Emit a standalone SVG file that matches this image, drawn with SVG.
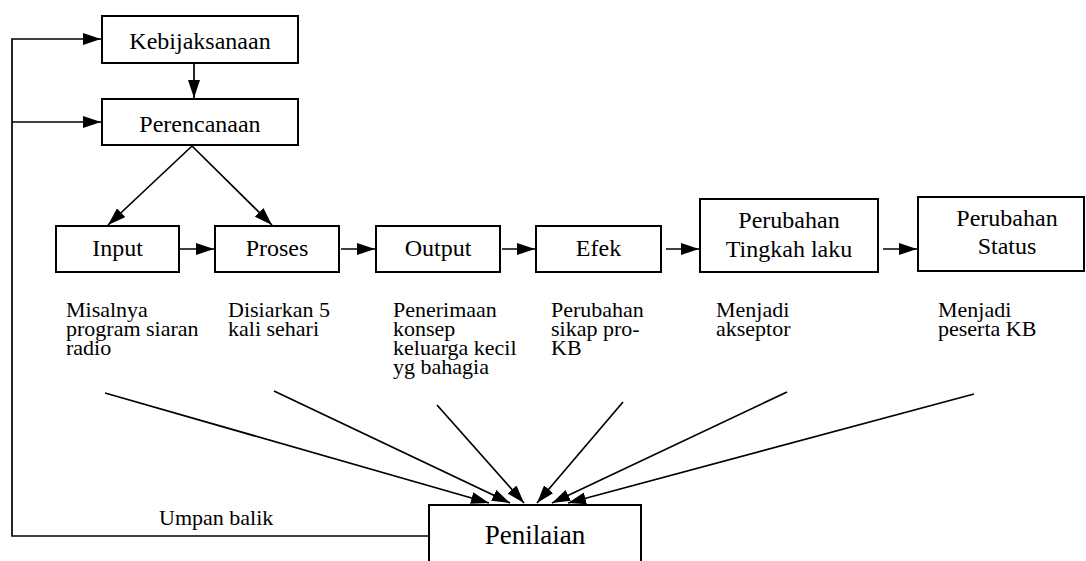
<svg xmlns="http://www.w3.org/2000/svg" width="1086" height="561" viewBox="0 0 1086 561">
  <style>
    .box { fill: #fff; stroke: #000; stroke-width: 2; }
    .lbl { font-size: 24px; text-anchor: middle; }
    .note { font-size: 22px; }
    .big { font-size: 27px; text-anchor: middle; }
    .edge { fill: none; stroke: #000; stroke-width: 1.7; }
  </style>
  <defs>
    <marker id="arr" viewBox="0 0 10 10" refX="10" refY="5" markerWidth="18" markerHeight="12" markerUnits="userSpaceOnUse" orient="auto" preserveAspectRatio="none">
      <path d="M0,0 L10,5 L0,10 z" fill="#000"/>
    </marker>
  </defs>
  <rect width="1086" height="561" fill="#fff"/>

  <!-- connectors -->
  <g id="connectors">
    <polyline class="edge" points="429,536 12,536 12,39 101,39" marker-end="url(#arr)"/>
    <line class="edge" x1="12" y1="122" x2="101" y2="122" marker-end="url(#arr)"/>
    <line class="edge" x1="194" y1="63" x2="194" y2="98" marker-end="url(#arr)"/>
    <line class="edge" x1="192" y1="146" x2="108" y2="225" marker-end="url(#arr)"/>
    <line class="edge" x1="192" y1="146" x2="272" y2="225" marker-end="url(#arr)"/>
    <line class="edge" x1="180" y1="249" x2="214" y2="249" marker-end="url(#arr)"/>
    <line class="edge" x1="341" y1="249" x2="375" y2="249" marker-end="url(#arr)"/>
    <line class="edge" x1="502" y1="249" x2="535" y2="249" marker-end="url(#arr)"/>
    <line class="edge" x1="666" y1="249" x2="699" y2="249" marker-end="url(#arr)"/>
    <line class="edge" x1="883" y1="249" x2="917" y2="249" marker-end="url(#arr)"/>
    <line class="edge" x1="105" y1="393" x2="489" y2="503" marker-end="url(#arr)"/>
    <line class="edge" x1="274" y1="391" x2="510" y2="503" marker-end="url(#arr)"/>
    <line class="edge" x1="437" y1="405" x2="524" y2="503" marker-end="url(#arr)"/>
    <line class="edge" x1="623" y1="402" x2="537" y2="503" marker-end="url(#arr)"/>
    <line class="edge" x1="787" y1="392" x2="552" y2="503" marker-end="url(#arr)"/>
    <line class="edge" x1="974" y1="394" x2="568" y2="503" marker-end="url(#arr)"/>
  </g>

  <!-- nodes and labels share one serif face -->
  <g font-family="Liberation Serif, Times New Roman, Tinos, DejaVu Serif, serif" fill="#000">
    <g id="kebijaksanaan">
      <rect class="box" x="102" y="16" width="196" height="47"/>
      <text class="lbl" x="200" y="49">Kebijaksanaan</text>
    </g>
    <g id="perencanaan">
      <rect class="box" x="102" y="99" width="196" height="46"/>
      <text class="lbl" x="200" y="132">Perencanaan</text>
    </g>
    <g id="input">
      <rect class="box" x="56" y="226" width="123" height="46"/>
      <text class="lbl" x="117.5" y="256">Input</text>
    </g>
    <g id="proses">
      <rect class="box" x="215" y="226" width="124" height="46"/>
      <text class="lbl" x="277" y="256">Proses</text>
    </g>
    <g id="output">
      <rect class="box" x="376" y="226" width="124" height="46"/>
      <text class="lbl" x="438" y="256">Output</text>
    </g>
    <g id="efek">
      <rect class="box" x="536" y="226" width="125" height="46"/>
      <text class="lbl" x="598.5" y="256">Efek</text>
    </g>
    <g id="tingkah-laku">
      <rect class="box" x="700" y="199" width="178" height="73"/>
      <text class="lbl" x="789" y="228">Perubahan</text>
      <text class="lbl" x="789" y="257">Tingkah laku</text>
    </g>
    <g id="status">
      <rect class="box" x="918" y="197" width="166" height="74"/>
      <text class="lbl" x="1007" y="226">Perubahan</text>
      <text class="lbl" x="1007" y="254">Status</text>
    </g>
    <g id="penilaian">
      <rect class="box" x="429" y="505" width="212" height="70"/>
      <text class="big" x="535" y="544">Penilaian</text>
    </g>

    <!-- annotations -->
    <g id="notes">
      <text class="note" x="66" y="317">Misalnya</text>
      <text class="note" x="66" y="336">program siaran</text>
      <text class="note" x="66" y="355">radio</text>
      <text class="note" x="228" y="317">Disiarkan 5</text>
      <text class="note" x="228" y="336">kali sehari</text>
      <text class="note" x="393" y="317">Penerimaan</text>
      <text class="note" x="393" y="336">konsep</text>
      <text class="note" x="393" y="355">keluarga kecil</text>
      <text class="note" x="393" y="374">yg bahagia</text>
      <text class="note" x="551" y="317">Perubahan</text>
      <text class="note" x="551" y="336">sikap pro-</text>
      <text class="note" x="551" y="355">KB</text>
      <text class="note" x="716" y="317">Menjadi</text>
      <text class="note" x="716" y="336">akseptor</text>
      <text class="note" x="938" y="317">Menjadi</text>
      <text class="note" x="938" y="336">peserta KB</text>
      <text class="note" x="159" y="525">Umpan balik</text>
    </g>
  </g>
</svg>
